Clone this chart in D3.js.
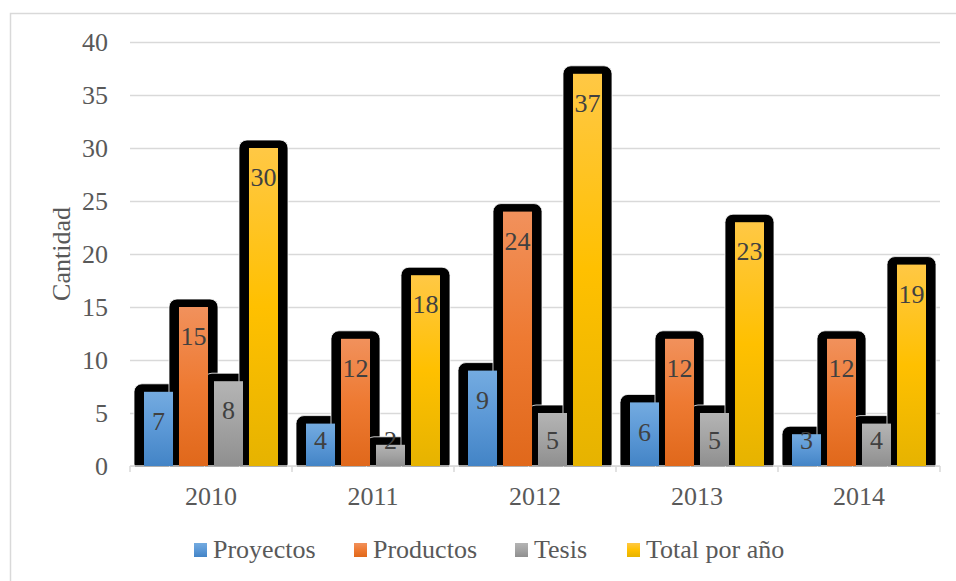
<!DOCTYPE html>
<html>
<head>
<meta charset="utf-8">
<script src="https://cdn.jsdelivr.net/npm/d3@7"></script>
<style>
  body { margin: 0; background: #fff; }
  svg { display: block; font-family: "Liberation Serif", "Times New Roman", serif; }
</style>
</head>
<body>
<svg id="chart" width="956" height="581"></svg>
<script>
// data
var years = ["2010", "2011", "2012", "2013", "2014"];
var seriesNames = ["Proyectos", "Productos", "Tesis", "Total por año"];
var proyectos = [7, 4, 9, 6, 3];
var productos = [15, 12, 24, 12, 12];
var tesis = [8, 2, 5, 5, 4];
var total = [30, 18, 37, 23, 19];
var yTicks = [0, 5, 10, 15, 20, 25, 30, 35, 40];

var seriesValues = [proyectos, productos, tesis, total];
var grads = [
  ["#74abe0", "#5b98d6", "#4384c6"],
  ["#f1915c", "#ee7a32", "#e0681b"],
  ["#b4b4b4", "#a3a3a3", "#8f8f8f"],
  ["#ffc845", "#ffc000", "#e6b300"]
];

var svg = d3.select("#chart");
var plotLeft = 130, plotRight = 940, plotTop = 42, plotBottom = 466;

// outer frame
svg.append("rect")
  .attr("x", 10.5).attr("y", 13.5)
  .attr("width", 960).attr("height", 600)
  .attr("fill", "none").attr("stroke", "#d9d9d9").attr("stroke-width", 1.5);

var defs = svg.append("defs");
grads.forEach(function (g, i) {
  var lg = defs.append("linearGradient")
    .attr("id", "g" + i)
    .attr("x1", 0).attr("y1", 0).attr("x2", 0).attr("y2", 1);
  lg.append("stop").attr("offset", "0%").attr("stop-color", g[0]);
  lg.append("stop").attr("offset", "50%").attr("stop-color", g[1]);
  lg.append("stop").attr("offset", "100%").attr("stop-color", g[2]);
});

var y = d3.scaleLinear().domain([0, 40]).range([plotBottom, plotTop]);
var x0 = d3.scaleBand().domain(years).range([plotLeft, plotRight]);
var x1 = d3.scaleBand().domain(d3.range(4)).range([14, 148]).paddingInner(0.171);

// y axis with gridlines
var yAxis = svg.append("g")
  .attr("transform", "translate(" + plotLeft + ",0)")
  .call(d3.axisLeft(y).tickValues(yTicks).tickSize(-(plotRight - plotLeft)).tickPadding(22));
yAxis.select(".domain").remove();
yAxis.selectAll("line").attr("stroke", "#d9d9d9").attr("stroke-width", 1.5);
yAxis.selectAll("text")
  .attr("fill", "#595959").style("font-size", "26px")
  .style("font-family", "Liberation Serif");

// x axis
var xAxis = svg.append("g")
  .attr("transform", "translate(0," + plotBottom + ")")
  .call(d3.axisBottom(x0).tickSize(0).tickPadding(21));
xAxis.select(".domain").remove();
xAxis.selectAll("text")
  .attr("fill", "#595959").style("font-size", "26px")
  .style("font-family", "Liberation Serif");

// flatten into marks
var marks = [];
years.forEach(function (yr, j) {
  seriesValues.forEach(function (vals, i) {
    marks.push({ year: yr, s: i, v: vals[j] });
  });
});

// black shadows behind the bars
var sh = 10, shTop = 8;
svg.append("g").selectAll("rect")
  .data(marks)
  .enter()
  .append("rect")
  .attr("x", function (d) { return x0(d.year) + x1(d.s) - sh; })
  .attr("y", function (d) { return y(d.v) - shTop; })
  .attr("width", x1.bandwidth() + 2 * sh)
  .attr("height", function (d) { return plotBottom - y(d.v) + shTop + 6; })
  .attr("rx", 8)
  .attr("fill", "#000")
  .attr("stroke", "#fff")
  .attr("stroke-width", 0.8);

// cover shadow below baseline
svg.append("rect")
  .attr("x", plotLeft - 20).attr("y", plotBottom + 0.8)
  .attr("width", plotRight - plotLeft + 40).attr("height", 12)
  .attr("fill", "#fff");

// baseline
svg.append("line")
  .attr("x1", plotLeft).attr("x2", plotRight)
  .attr("y1", plotBottom).attr("y2", plotBottom)
  .attr("stroke", "#d9d9d9").attr("stroke-width", 1.5);
svg.append("g").selectAll("line")
  .data(d3.range(years.length + 1))
  .enter()
  .append("line")
  .attr("x1", function (k) { return plotLeft + k * x0.step(); })
  .attr("x2", function (k) { return plotLeft + k * x0.step(); })
  .attr("y1", plotBottom).attr("y2", plotBottom + 6)
  .attr("stroke", "#d9d9d9").attr("stroke-width", 1.5);

// bars
svg.append("g").selectAll("rect")
  .data(marks)
  .enter()
  .append("rect")
  .attr("x", function (d) { return x0(d.year) + x1(d.s); })
  .attr("y", function (d) { return y(d.v); })
  .attr("width", x1.bandwidth())
  .attr("height", function (d) { return plotBottom - y(d.v); })
  .attr("fill", function (d) { return "url(#g" + d.s + ")"; });

// value labels
svg.append("g").selectAll("text")
  .data(marks)
  .enter()
  .append("text")
  .attr("x", function (d) { return x0(d.year) + x1(d.s) + x1.bandwidth() / 2; })
  .attr("y", function (d) { return Math.min(y(d.v) + 29, 440); })
  .attr("dy", "0.35em")
  .attr("text-anchor", "middle")
  .attr("fill", "#404040")
  .style("font-size", "26px")
  .text(function (d) { return d.v; });

// axis title
svg.append("text")
  .attr("transform", "translate(70,254) rotate(-90)")
  .attr("text-anchor", "middle")
  .attr("fill", "#595959")
  .style("font-size", "26px")
  .text("Cantidad");

// legend
var legendX = [194, 354, 515, 627];
var legend = svg.append("g").selectAll("g")
  .data(seriesNames)
  .enter()
  .append("g")
  .attr("transform", function (d, i) { return "translate(" + legendX[i] + ",0)"; });
legend.append("rect")
  .attr("x", 0).attr("y", 543)
  .attr("width", 13).attr("height", 14)
  .attr("fill", function (d, i) { return "url(#g" + i + ")"; });
legend.append("text")
  .attr("x", 19).attr("y", 558)
  .attr("fill", "#595959")
  .style("font-size", "26px")
  .text(function (d) { return d; });
</script>
</body>
</html>
